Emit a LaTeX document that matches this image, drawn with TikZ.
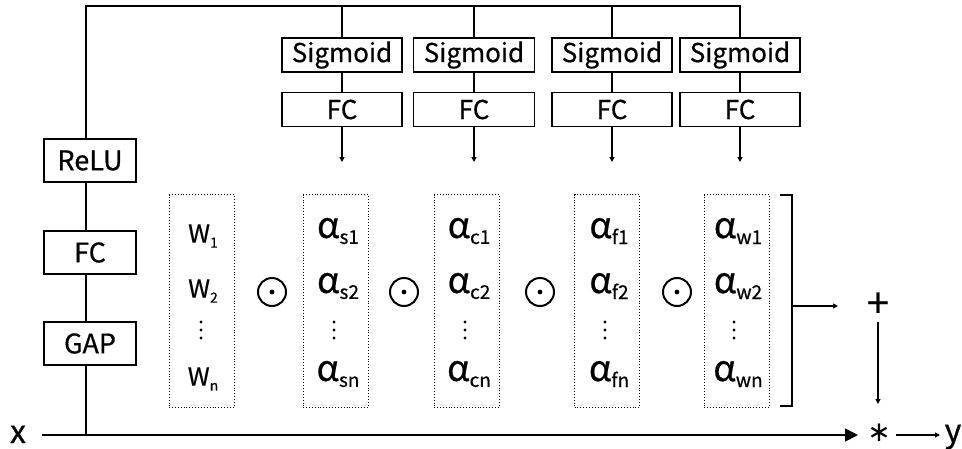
\documentclass[tikz,border=0pt]{standalone}
\usepackage{fontspec}
\setmainfont{Noto Sans CJK KR}[FakeBold=0.6]
\newfontfamily\opfont{DejaVu Sans}
\usetikzlibrary{arrows.meta}

% small helpers for vector entries
\newcommand{\entW}[1]{W\raisebox{-5pt}{\fontsize{14}{14}\selectfont #1}}
\newcommand{\entA}[1]{\fontsize{36}{36}\selectfont α\raisebox{-6pt}{\fontsize{19}{19}\selectfont #1}}

\begin{document}
\begin{tikzpicture}[x=1pt,y=-1pt,
  line width=1.6pt,
  blk/.style={draw, line width=1.3pt, minimum width=92pt, minimum height=43pt,
    inner sep=0pt, font=\fontsize{27}{30}\selectfont},
  topblk/.style={draw, line width=1.3pt, minimum width=120pt, minimum height=34pt,
    inner sep=0pt, font=\fontsize{26}{28}\selectfont},
  vecbox/.style={draw, dotted, line width=0.9pt, minimum width=65pt,
    minimum height=213pt, inner sep=0pt},
  entry/.style={inner sep=0pt, font=\fontsize{25}{28}\selectfont},
  hadamard/.style={circle, draw, line width=2pt, minimum size=28pt, inner sep=0pt},
  smallarrow/.style={-{Triangle[length=5pt,width=5pt]}, line width=1.1pt},
  bigarrow/.style={-{Triangle[length=13pt,width=13pt]}, line width=1.8pt},
  label/.style={inner sep=0pt, anchor=base, font=\fontsize{32}{32}\selectfont}
]
\useasboundingbox (0,0) rectangle (962,448);

% input / output labels
\node[label] (x) at (18,443) {x};
\node[inner sep=0pt, font=\opfont\fontsize{28}{28}\selectfont] (star) at (879,433) {∗};
\node[label] (y) at (953,442) {y};
\node[inner sep=0pt, font=\fontsize{40}{40}\selectfont] (plus) at (878,305) {+};

% left branch blocks
\node[blk] (relu) at (90,160.5) {ReLU};
\node[blk] (fc0)  at (90,252.5) {FC};
\node[blk] (gap)  at (90,343.5) {GAP};

% top branches
\foreach \i/\cx/\bw in {1/342/120, 2/474/121, 3/612/120, 4/740/120}{
  \node[topblk, minimum width=\bw pt] (sig\i) at (\cx,55) {Sigmoid};
  \node[topblk, minimum width=\bw pt] (fc\i)  at (\cx,109.5) {FC};
  \coordinate (tip\i) at (\cx,162);
}

% junction points
\coordinate (tl) at (86,6);
\coordinate (tr) at (740,6);
\coordinate (jb) at (86,435);
\coordinate (xs) at (42,435);
\coordinate (xe) at (858,435);

% vector boxes
\node[vecbox] (vw) at (201.5,301) {};
\node[vecbox] (vs) at (335.5,301) {};
\node[vecbox] (vc) at (466.5,301) {};
\node[vecbox] (vf) at (607,301) {};
\node[vecbox] (vv) at (736.5,301) {};

% entries of the weight vector
\node[entry] (w1) at (203,236) {\entW{1}};
\node[entry] (w2) at (203,291) {\entW{2}};
\node[entry] (wn) at (203,379) {\entW{n}};
\foreach \k in {0,1,2}{ \fill (201,322+\k*8) circle (1.6pt); }

% entries of the attention vectors
\foreach \nm/\cx/\s in {vs/338/s, vc/469/c, vf/609/f, vv/738/w}{
  \node[entry] (\nm1) at (\cx,231) {\entA{\s1}};
  \node[entry] (\nm2) at (\cx,286) {\entA{\s2}};
  \node[entry] (\nm n) at (\cx,374) {\entA{\s n}};
  \foreach \k in {0,1,2}{ \fill (\cx-4,322+\k*8) circle (1.6pt); }
}

% element-wise products
\foreach \i/\cx in {1/272, 2/404, 3/540, 4/677}{
  \node[hadamard] (o\i) at (\cx,292) {};
  \fill (o\i.center) circle (2.4pt);
}

% bracket collecting the product
\coordinate (bt) at (780,195);
\coordinate (btr) at (792,195);
\coordinate (bbr) at (792,406);
\coordinate (bb) at (780,406);
\coordinate (bm) at (792,306);
\coordinate (bme) at (838,306);
\draw[line width=1.6pt] (bt) -- (btr) -- (bbr) -- (bb);
\draw[smallarrow, line width=1.4pt] (bm) -- (bme);

% main path x -> *
\draw[bigarrow] (xs) -- (xe);
\draw[line width=1.6pt] (jb) -- (gap.south -| jb);
\draw[line width=1.6pt] (gap.north -| jb) -- (fc0.south -| jb);
\draw[line width=1.6pt] (fc0.north -| jb) -- (relu.south -| jb);
\draw[line width=1.6pt] (relu.north -| jb) -- (tl) -- (tr) -- (sig4);
\foreach \i in {1,2,3}{
  \draw[line width=1.6pt] (sig\i) -- (sig\i.north |- tl);
}
\foreach \i in {1,...,4}{
  \draw[line width=1.4pt] (sig\i) -- (fc\i);
  \draw[smallarrow] (fc\i) -- (tip\i);
}

% + -> * -> y
\coordinate (pd) at (878,322);
\coordinate (pe) at (878,404);
\draw[smallarrow] (pd) -- (pe);
\coordinate (ys) at (896,435);
\coordinate (ye) at (940,435);
\draw[smallarrow] (ys) -- (ye);
\end{tikzpicture}
\end{document}
